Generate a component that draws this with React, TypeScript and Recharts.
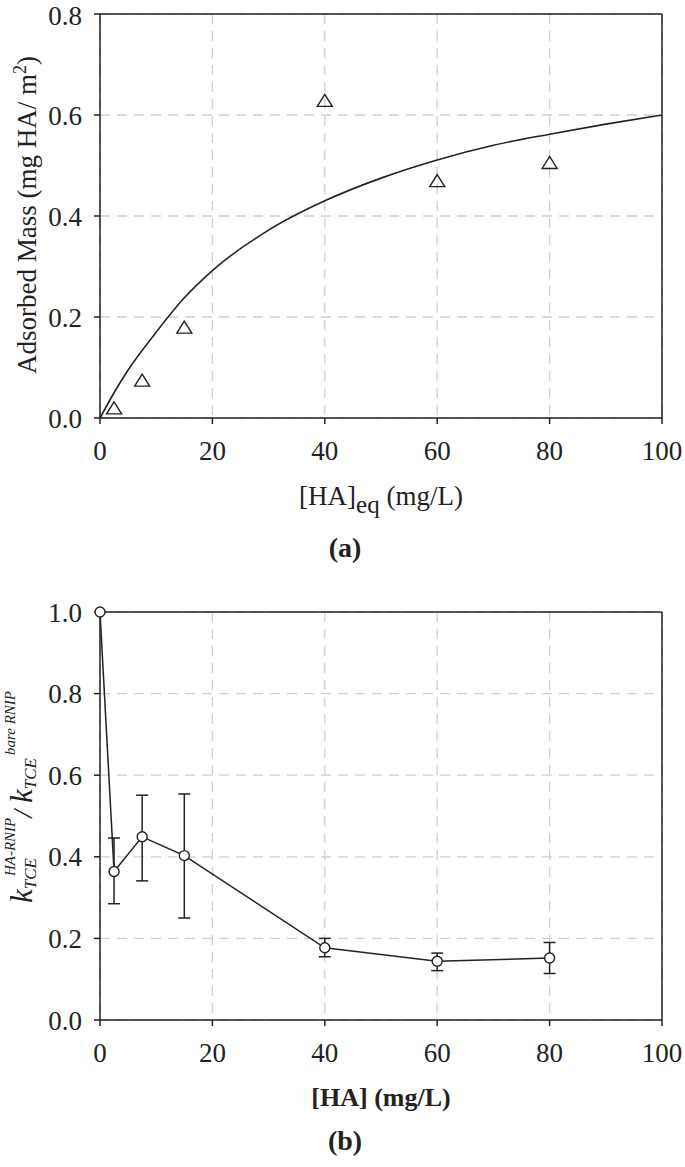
import React from 'react';
import {
  ComposedChart,
  Line,
  Scatter,
  XAxis,
  YAxis,
  CartesianGrid,
  ReferenceLine,
  ErrorBar
} from 'recharts';

// (a) adsorption isotherm
const measuredHA = [2.5, 7.5, 15, 40, 60, 80];
const measuredMass = [0.019, 0.074, 0.179, 0.628, 0.469, 0.505];
const fitHA = [0, 2.5, 5, 10, 15, 20, 30, 40, 50, 60, 70, 80, 90, 100];
const fitMass = [0, 0.05, 0.095, 0.17, 0.238, 0.292, 0.372, 0.43, 0.475, 0.511, 0.54, 0.562, 0.582, 0.6];

// (b) relative rate constant
const rateHA = [0, 2.5, 7.5, 15, 40, 60, 80];
const rateRatio = [1.0, 0.364, 0.449, 0.403, 0.177, 0.144, 0.152];
const rateHigh = [null, 0.446, 0.551, 0.554, 0.2, 0.164, 0.19];
const rateLow = [null, 0.285, 0.341, 0.25, 0.155, 0.121, 0.114];

const xTicks = [0, 20, 40, 60, 80, 100];
const yTicksA = [0, 0.2, 0.4, 0.6, 0.8];
const yTicksB = [0, 0.2, 0.4, 0.6, 0.8, 1.0];

const INK = '#222';
const SERIF = '"Liberation Serif", "Times New Roman", serif';
const GRID = '#cfcfcf';

const measured = measuredHA.map((x, i) => ({ x, y: measuredMass[i] }));
const fit = fitHA.map((x, i) => ({ x, y: fitMass[i] }));
const rates = rateHA.map((x, i) => ({
  x,
  y: rateRatio[i],
  err: rateHigh[i] == null ? null : [rateRatio[i] - (rateLow[i] as number), (rateHigh[i] as number) - rateRatio[i]]
}));

const tickStyle = { fontFamily: SERIF, fontSize: 27, fill: INK };

const Triangle = (props: any) => {
  const { cx, cy } = props;
  if (cx == null || cy == null) return null;
  return (
    <polygon
      points={`${cx},${cy - 6.5} ${cx + 7.5},${cy + 5.5} ${cx - 7.5},${cy + 5.5}`}
      fill="none"
      stroke={INK}
      strokeWidth={1.4}
    />
  );
};

const Caption = ({ text, top }: { text: string; top: number }) => (
  <div
    style={{
      position: 'absolute',
      left: 0,
      width: 690,
      top,
      textAlign: 'center',
      fontFamily: SERIF,
      fontWeight: 'bold',
      fontSize: 28,
      lineHeight: '32px',
      color: INK
    }}
  >
    {text}
  </div>
);

export default function App() {
  return (
    <div style={{ position: 'absolute', left: 0, top: 0, width: 685, height: 1167, background: '#fff' }}>
      <div style={{ position: 'absolute', left: 0, top: 0 }}>
        <ComposedChart width={685} height={580} margin={{ top: 14, right: 23, bottom: 0, left: 0 }}>
          <CartesianGrid stroke={GRID} strokeDasharray="10 7" strokeWidth={1.3} />
          <XAxis
            type="number"
            dataKey="x"
            domain={[0, 100]}
            ticks={xTicks}
            height={162}
            tickSize={6}
            tickMargin={17}
            tick={tickStyle}
            axisLine={{ stroke: INK, strokeWidth: 1.5 }}
            tickLine={{ stroke: INK, strokeWidth: 1.5 }}
            label={{
              content: () => (
                <text x={381} y={505} textAnchor="middle" fontFamily={SERIF} fontSize={27} fill={INK}>
                  [HA]
                  <tspan fontSize={25} dy={8}>eq</tspan>
                  <tspan dy={-8}> (mg/L)</tspan>
                </text>
              )
            }}
          />
          <YAxis
            type="number"
            domain={[0, 0.8]}
            ticks={yTicksA}
            width={100}
            tickSize={6}
            tickMargin={12}
            tick={tickStyle}
            tickFormatter={(v: number) => v.toFixed(1)}
            axisLine={{ stroke: INK, strokeWidth: 1.5 }}
            tickLine={{ stroke: INK, strokeWidth: 1.5 }}
            label={{
              content: () => (
                <text
                  x={36}
                  y={215}
                  transform="rotate(-90 36 215)"
                  textAnchor="middle"
                  fontFamily={SERIF}
                  fontSize={27}
                  fill={INK}
                >
                  Adsorbed Mass (mg HA/ m
                  <tspan fontSize={18} dy={-10}>2</tspan>
                  <tspan dy={10}>)</tspan>
                </text>
              )
            }}
          />
          <ReferenceLine y={0.8} stroke={INK} strokeWidth={1.5} />
          <ReferenceLine x={100} stroke={INK} strokeWidth={1.5} />
          <Line
            data={fit}
            dataKey="y"
            type="monotone"
            stroke={INK}
            strokeWidth={1.6}
            dot={false}
            activeDot={false}
            isAnimationActive={false}
          />
          <Scatter data={measured} dataKey="y" shape={<Triangle />} isAnimationActive={false} />
        </ComposedChart>
      </div>
      <Caption text="(a)" top={532} />

      <div style={{ position: 'absolute', left: 0, top: 580 }}>
        <ComposedChart width={685} height={587} data={rates} margin={{ top: 32, right: 23, bottom: 0, left: 0 }}>
          <CartesianGrid stroke={GRID} strokeDasharray="10 7" strokeWidth={1.3} />
          <XAxis
            type="number"
            dataKey="x"
            domain={[0, 100]}
            ticks={xTicks}
            height={147}
            tickSize={6}
            tickMargin={17}
            tick={tickStyle}
            axisLine={{ stroke: INK, strokeWidth: 1.5 }}
            tickLine={{ stroke: INK, strokeWidth: 1.5 }}
            label={{
              content: () => (
                <text x={381} y={526} textAnchor="middle" fontFamily={SERIF} fontWeight="bold" fontSize={26} fill={INK}>
                  [HA] (mg/L)
                </text>
              )
            }}
          />
          <YAxis
            type="number"
            domain={[0, 1]}
            ticks={yTicksB}
            width={100}
            tickSize={6}
            tickMargin={12}
            tick={tickStyle}
            tickFormatter={(v: number) => v.toFixed(1)}
            axisLine={{ stroke: INK, strokeWidth: 1.5 }}
            tickLine={{ stroke: INK, strokeWidth: 1.5 }}
            label={{
              content: () => (
                <text
                  x={32}
                  y={217}
                  transform="rotate(-90 32 217)"
                  textAnchor="middle"
                  fontFamily={SERIF}
                  fontStyle="italic"
                  fontSize={31}
                  fill={INK}
                >
                  k
                  <tspan fontSize={17} dy={4}>TCE</tspan>
                  <tspan fontSize={15} dx={-18} dy={-21}>HA-RNIP</tspan>
                  <tspan fontSize={28} dy={17}>/ </tspan>
                  <tspan fontSize={31}>k</tspan>
                  <tspan fontSize={17} dy={4}>TCE</tspan>
                  <tspan fontSize={15} dx={3} dy={-21}>bare RNIP</tspan>
                </text>
              )
            }}
          />
          <ReferenceLine y={1} stroke={INK} strokeWidth={1.5} />
          <ReferenceLine x={100} stroke={INK} strokeWidth={1.5} />
          <Line
            dataKey="y"
            type="linear"
            stroke={INK}
            strokeWidth={1.5}
            dot={{ r: 5, fill: '#fff', stroke: INK, strokeWidth: 1.4 }}
            activeDot={false}
            isAnimationActive={false}
          >
            <ErrorBar dataKey="err" direction="y" width={6} stroke={INK} strokeWidth={1.5} />
          </Line>
        </ComposedChart>
      </div>
      <Caption text="(b)" top={1125} />
    </div>
  );
}
